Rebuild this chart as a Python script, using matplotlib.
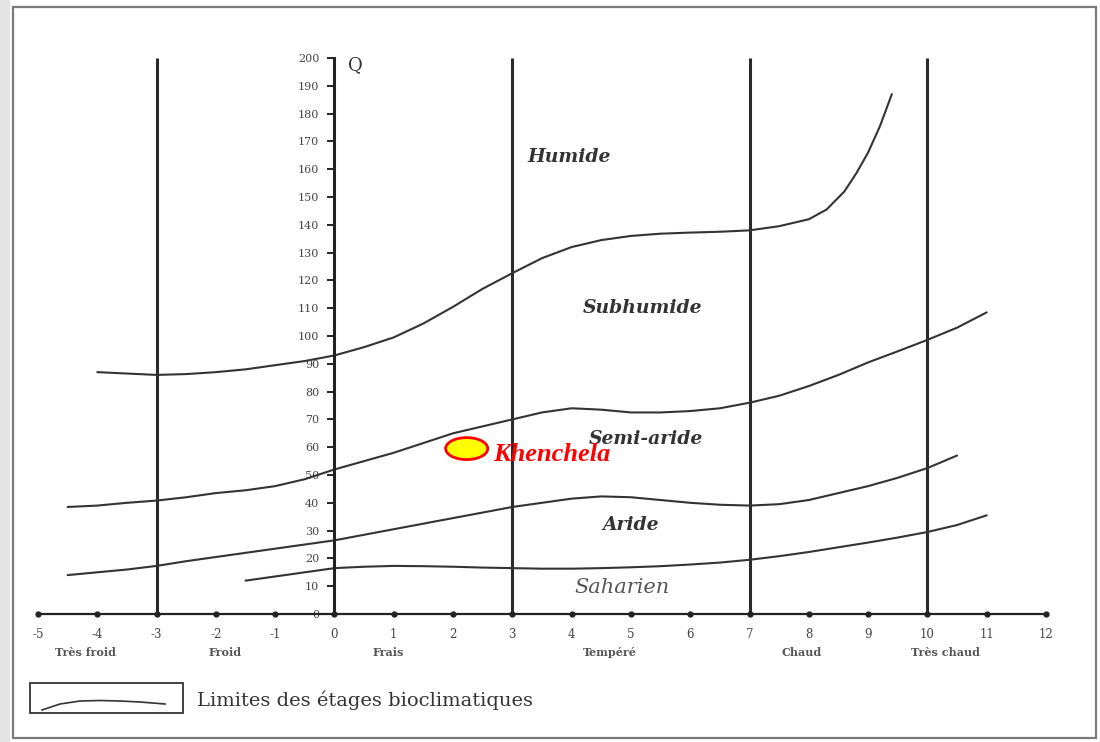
import matplotlib
matplotlib.use("Agg")
import matplotlib.pyplot as plt
from matplotlib.patches import Ellipse, Rectangle
from matplotlib.lines import Line2D

# ---- data read from the climagramme ----
x_c1 = [-4, -3.5, -3, -2.5, -2, -1.5, -1, -0.5, 0, 0.5, 1, 1.5, 2, 2.5, 3, 3.5, 4, 4.5, 5,
        5.5, 6, 6.5, 7, 7.5, 8, 8.3, 8.6, 8.8, 9, 9.2, 9.4]
q_c1 = [87, 86.5, 86, 86.3, 87, 88, 89.5, 91, 93, 96, 99.5, 104.5, 110.5, 117, 122.6, 128, 132,
        134.5, 136, 136.8, 137.2, 137.5, 138, 139.5, 142, 145.5, 152, 158.5, 166, 175.5, 187]

x_c2 = [-4.5, -4, -3.5, -3, -2.5, -2, -1.5, -1, -0.5, 0, 0.5, 1, 1.5, 2, 2.5, 3, 3.5, 4, 4.5,
        5, 5.5, 6, 6.5, 7, 7.5, 8, 8.5, 9, 9.5, 10, 10.5, 11]
q_c2 = [38.5, 39, 40, 40.8, 42, 43.5, 44.5, 46, 48.5, 52, 55, 58, 61.5, 65, 67.5, 70, 72.5, 74,
        73.5, 72.5, 72.5, 73, 74, 76, 78.5, 82, 86, 90.5, 94.5, 98.6, 103, 108.5]

x_c3 = [-4.5, -4, -3.5, -3, -2.5, -2, -1.5, -1, -0.5, 0, 0.5, 1, 1.5, 2, 2.5, 3, 3.5, 4, 4.5,
        5, 5.5, 6, 6.5, 7, 7.5, 8, 8.5, 9, 9.5, 10, 10.5]
q_c3 = [14, 15, 16, 17.3, 19, 20.5, 22, 23.5, 25, 26.5, 28.5, 30.5, 32.5, 34.5, 36.5, 38.5, 40,
        41.5, 42.3, 42, 41, 40, 39.3, 39, 39.5, 41, 43.5, 46, 49, 52.5, 57]

x_c4 = [-1.5, -1, -0.5, 0, 0.5, 1, 1.5, 2, 2.5, 3, 3.5, 4, 4.5, 5, 5.5, 6, 6.5, 7, 7.5, 8, 8.5,
        9, 9.5, 10, 10.5, 11]
q_c4 = [12, 13.5, 15, 16.5, 17, 17.3, 17.2, 17, 16.7, 16.5, 16.3, 16.3, 16.5, 16.8, 17.2, 17.8,
        18.5, 19.5, 20.8, 22.3, 24, 25.7, 27.5, 29.5, 32, 35.5]

limits_m = [-3, 0, 3, 7, 10]
x_ticks = list(range(-5, 13))
y_ticks = list(range(0, 201, 10))

zones = ["Humide", "Subhumide", "Semi-aride", "Aride", "Saharien"]
zone_x = [3.95, 5.2, 5.25, 5.0, 4.85]
zone_q = [164.5, 110, 63, 32, 9.5]

winters = ["Très froid", "Froid", "Frais", "Tempéré", "Chaud", "Très chaud"]
winter_x = [-4.2, -1.84, 0.91, 4.64, 7.88, 10.3]

station = "Khenchela"
station_m = 2.23
station_q = 59.5

# ---- figure ----
W, H = 1100, 742
fig = plt.figure(figsize=(11, 7.42), dpi=100)
fig.patch.set_facecolor("white")

# outer frame
fig.add_artist(Rectangle((0, 0), 10 / W, 1, transform=fig.transFigure,
                         facecolor="#e4e4e4", edgecolor="none"))
fig.add_artist(Rectangle((13 / W, 1 - 738 / H), (1096 - 13) / W, (738 - 7) / H,
                         transform=fig.transFigure, fill=False, edgecolor="#7a7a7a", lw=1.6))

ax = fig.add_axes([38 / W, 1 - 614 / H, (1046 - 38) / W, (614 - 58) / H])
ax.set_xlim(-5, 12)
ax.set_ylim(0, 200)
ax.set_facecolor("none")

for s in ["top", "right"]:
    ax.spines[s].set_visible(False)
ax.spines["left"].set_position(("data", 0))
ax.spines["left"].set_linewidth(2.2)
ax.spines["left"].set_color("#222222")
ax.spines["bottom"].set_linewidth(1.6)
ax.spines["bottom"].set_color("#222222")

serif = ["DejaVu Serif"]
tserif = ["Liberation Serif", "DejaVu Serif"]

ax.set_yticks(y_ticks)
ax.set_yticklabels([str(v) for v in y_ticks], fontsize=8, family=serif, color="#444444")
ax.tick_params(axis="y", direction="out", length=5, width=1.4, pad=6, colors="#222222",
               labelcolor="#444444")
ax.set_xticks(x_ticks)
ax.set_xticklabels([str(v) for v in x_ticks], fontsize=8.5, family=serif, color="#444444")
ax.tick_params(axis="x", length=0, pad=10, labelcolor="#444444")

# dots on x axis
ax.plot(x_ticks, [0] * len(x_ticks), "o", ms=3.5, color="#222222", clip_on=False, zorder=5)

# vertical m limits
ax.vlines([v for v in limits_m if v != 0], 0, 200, color="#2a2a2a", lw=2.2)

# bioclimatic limits
for xs, qs in [(x_c1, q_c1), (x_c2, q_c2), (x_c3, q_c3), (x_c4, q_c4)]:
    ax.plot(xs, qs, color="#333333", lw=1.5, solid_capstyle="round", solid_joinstyle="round")

# zone labels
for name, zx, zq in zip(zones, zone_x, zone_q):
    if name == "Saharien":
        ax.text(zx, zq, name, ha="center", va="center", fontsize=15, style="italic",
                family=serif, color="#555555")
    else:
        ax.text(zx, zq, name, ha="center", va="center", fontsize=13.5, style="italic",
                weight="bold", family=serif, color="#333333")

# winter classes
for name, wx in zip(winters, winter_x):
    ax.text(wx, -13.7, name, ha="center", va="center", fontsize=8, weight="bold",
            family=serif, color="#555555", clip_on=False)

# Q label
ax.text(0.36, 197.5, "Q", ha="center", va="center", fontsize=13, family=serif,
        color="#333333", clip_on=False)

# station
ax.add_patch(Ellipse((station_m, station_q), 0.71, 7.9, facecolor="#ffff00",
                     edgecolor="#ff0000", lw=2, zorder=6))
ax.text(station_m + 0.45, station_q - 2.2, station, ha="left", va="center", fontsize=19,
        style="italic", weight="bold", family=tserif, color="#ff0000", zorder=6)

# legend box
fig.add_artist(Rectangle((30 / W, 1 - 713 / H), (183 - 30) / W, (713 - 683) / H,
                         transform=fig.transFigure, fill=False, edgecolor="#333333", lw=1.3))
lx = [42, 60, 80, 100, 120, 140, 165]
ly = [710, 704, 701, 700.5, 701, 702, 704]
fig.add_artist(Line2D([v / W for v in lx], [1 - v / H for v in ly], transform=fig.transFigure,
                      color="#333333", lw=1.2))
fig.text(197 / W, 1 - 700 / H, "Limites des étages bioclimatiques", ha="left", va="center",
         fontsize=14, family=serif, color="#333333")

fig.savefig("out.png", dpi=100)
